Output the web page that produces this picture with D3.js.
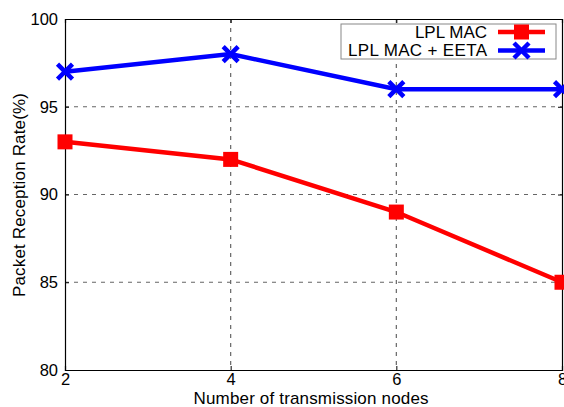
<!DOCTYPE html>
<html><head><meta charset="utf-8">
<script src="https://cdn.jsdelivr.net/npm/d3@7"></script>
<style>body{margin:0;background:#fff}svg{display:block}text{font-family:"Liberation Sans",Arial,sans-serif}</style>
</head><body>
<svg id="c" width="564" height="407"></svg>
<script>
const xValues = [2, 4, 6, 8];
const lplMac = [93, 92, 89, 85];
const lplMacEeta = [97, 98, 96, 96];
const yTicks = [80, 85, 90, 95, 100];
const seriesNames = ["LPL MAC", "LPL MAC + EETA"];
const xLabel = "Number of transmission nodes";
const yLabel = "Packet Reception Rate(%)";

const svg = d3.select("#c");
const m = {l: 65, r: 562, t: 19, b: 370};
const x = d3.scaleLinear().domain([2, 8]).range([m.l, m.r]);
const y = d3.scaleLinear().domain([80, 100]).range([m.b, m.t]);

// grid
const g = svg.append("g");
g.selectAll(".gx").data(xValues.slice(1, -1)).enter().append("line")
  .attr("x1", d => x(d)).attr("x2", d => x(d)).attr("y1", m.t).attr("y2", m.b)
  .attr("stroke", "#666").attr("stroke-width", 1.2).attr("stroke-dasharray", "4,5");
g.selectAll(".gy").data(yTicks.slice(1, -1)).enter().append("line")
  .attr("y1", d => y(d)).attr("y2", d => y(d)).attr("x1", m.l).attr("x2", m.r)
  .attr("stroke", "#666").attr("stroke-width", 1.2).attr("stroke-dasharray", "4,5");

// axes
const xAxis = d3.axisBottom(x).tickValues(xValues).tickSize(-4).tickPadding(8).tickFormat(d3.format("d"));
const yAxis = d3.axisLeft(y).tickValues(yTicks).tickSize(-4).tickPadding(8);
const xa = svg.append("g").attr("transform", `translate(0,${m.b})`).call(xAxis);
const ya = svg.append("g").attr("transform", `translate(${m.l},0)`).call(yAxis);
svg.append("g").attr("transform", `translate(0,${m.t})`).call(d3.axisTop(x).tickValues(xValues).tickSize(-4).tickFormat(""));
svg.append("g").attr("transform", `translate(${m.r},0)`).call(d3.axisRight(y).tickValues(yTicks).tickSize(-4).tickFormat(""));
svg.selectAll(".domain").attr("stroke", "#000").attr("stroke-width", 1.2);
svg.selectAll(".tick line").attr("stroke", "#000");
svg.selectAll(".tick text").attr("font-size", 16.5).attr("fill", "#000").attr("font-family", '"Liberation Sans",Arial,sans-serif');
ya.selectAll(".tick text").attr("x", -7);
xa.selectAll(".tick text").attr("dy", "0.75em").attr("y", 3);

// lines
const line = d3.line().x((d, i) => x(xValues[i])).y(d => y(d));
svg.append("path").datum(lplMac).attr("d", line).attr("fill", "none").attr("stroke", "#ff0000").attr("stroke-width", 4.5);
svg.append("path").datum(lplMacEeta).attr("d", line).attr("fill", "none").attr("stroke", "#0000ff").attr("stroke-width", 4.5);

const sq = 15, xs = 7.5;
svg.selectAll(".sq").data(lplMac).enter().append("rect")
  .attr("x", (d, i) => x(xValues[i]) - sq / 2).attr("y", d => y(d) - sq / 2)
  .attr("width", sq).attr("height", sq).attr("fill", "#ff0000");
function cross(sel, cx, cy) {
  sel.append("path").attr("d", `M${cx - xs},${cy - xs}L${cx + xs},${cy + xs}M${cx - xs},${cy + xs}L${cx + xs},${cy - xs}`)
    .attr("stroke", "#0000ff").attr("stroke-width", 4.5).attr("fill", "none");
}
lplMacEeta.forEach((d, i) => cross(svg, x(xValues[i]), y(d)));

// legend
const lg = svg.append("g");
lg.append("rect").attr("x", 341).attr("y", 24).attr("width", 215).attr("height", 35)
  .attr("fill", "#fff").attr("stroke", "#888").attr("stroke-width", 1);
const rows = [32, 50.5];
seriesNames.forEach((n, i) => {
  lg.append("text").attr("x", 487).attr("y", rows[i]).attr("dy", "0.35em").attr("text-anchor", "end")
    .attr("font-size", 17).attr("textLength", i ? 139 : null).text(n);
  lg.append("line").attr("x1", 498).attr("x2", 545).attr("y1", rows[i]).attr("y2", rows[i])
    .attr("stroke", i ? "#0000ff" : "#ff0000").attr("stroke-width", 4.5);
});
lg.append("rect").attr("x", 521.5 - sq / 2).attr("y", rows[0] - sq / 2).attr("width", sq).attr("height", sq).attr("fill", "#ff0000");
cross(lg, 521.5, rows[1]);

// labels
svg.append("text").attr("x", 311).attr("y", 404).attr("text-anchor", "middle").attr("font-size", 17).attr("textLength", 235).text(xLabel);
svg.append("text").attr("transform", "translate(25,195) rotate(-90)").attr("text-anchor", "middle").attr("font-size", 17).attr("textLength", 204).text(yLabel);
</script>
</body></html>
